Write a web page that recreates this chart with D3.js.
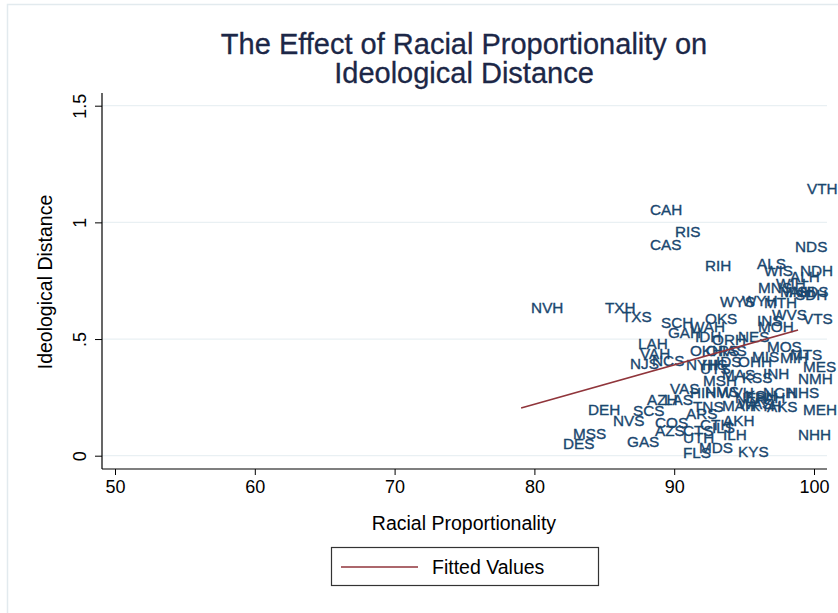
<!DOCTYPE html>
<html>
<head>
<meta charset="utf-8">
<script src="https://cdn.jsdelivr.net/npm/d3@7"></script>
<style>
  html, body { margin: 0; padding: 0; background: #ffffff; }
  svg { display: block; font-family: "Liberation Sans", Arial, Helvetica, sans-serif; }
</style>
</head>
<body>
<svg id="chart" width="838" height="613"></svg>
<script>
// State delegation codes (state + H for House, S for Senate)
const labels = [
  "VTH","CAH","RIS","CAS","NDS","RIH","ALS","WIS","NDH","ALH",
  "MNS","WIH","SDS","SDH","IAH","MNH","WYS","WYH","MTH","OKS",
  "INS","WVS","VTS","MOH","SCH","WAH","GAH","NVH","TXH","TXS",
  "LAH","VAH","NJS","NCS","NES","IDH","ORH","OKH","ORS","IAS",
  "MOS","MIS","MTS","MIH","NYH","HIS","IDS","OHH","MES","NMH",
  "MSH","MAS","KSS","INH","UTS","NHS","VAS","AZH","LAS","HIH",
  "NMS","WVH","KSH","NEH","PAH","NCH","TNS","MAH","WAS","KYH",
  "AKS","MEH","DEH","SCS","NVS","COS","ARS","AKH","AZS","CTH",
  "ILS","CTS","UTH","ILH","NHH","GAS","MSS","DES","FLS","MDS",
  "KYS"
];

// Racial proportionality (x)
const racialProp = [
  98.78, 87.55, 89.34, 87.55, 97.93, 91.49, 95.21, 95.71, 98.28, 97.57,
  95.28, 96.57, 98.07, 97.93, 97.21, 96.85, 92.56, 94.13, 95.71, 91.49,
  95.21, 96.28, 98.50, 95.28, 88.34, 90.41, 88.84, 79.05, 84.33, 85.55,
  86.70, 86.84, 86.12, 87.70, 93.85, 90.77, 91.99, 90.41, 91.56, 92.70,
  95.92, 94.85, 97.57, 96.85, 90.13, 91.27, 92.27, 93.85, 98.50, 98.14,
  91.35, 92.70, 94.13, 95.64, 91.13, 97.35, 88.98, 87.34, 88.56, 90.41,
  91.49, 92.42, 94.35, 93.63, 95.07, 95.64, 90.63, 92.70, 93.85, 94.71,
  95.92, 98.50, 83.12, 86.34, 84.91, 87.91, 90.13, 92.78, 87.91, 91.13,
  91.99, 89.91, 89.91, 92.78, 98.14, 85.91, 82.05, 81.33, 89.91, 91.06,
  93.85
];

// Ideological distance (y)
const ideoDist = [
  1.147, 1.057, 0.963, 0.907, 0.895, 0.817, 0.822, 0.792, 0.792, 0.770,
  0.723, 0.736, 0.702, 0.690, 0.705, 0.702, 0.663, 0.667, 0.658, 0.590,
  0.581, 0.607, 0.590, 0.552, 0.573, 0.552, 0.526, 0.637, 0.637, 0.595,
  0.479, 0.440, 0.397, 0.410, 0.513, 0.509, 0.500, 0.449, 0.453, 0.453,
  0.466, 0.427, 0.432, 0.419, 0.389, 0.393, 0.402, 0.402, 0.384, 0.333,
  0.324, 0.350, 0.337, 0.354, 0.372, 0.273, 0.290, 0.243, 0.243, 0.272,
  0.276, 0.269, 0.260, 0.248, 0.248, 0.273, 0.209, 0.217, 0.225, 0.217,
  0.209, 0.196, 0.196, 0.192, 0.153, 0.144, 0.183, 0.153, 0.106, 0.132,
  0.119, 0.110, 0.080, 0.089, 0.093, 0.059, 0.097, 0.054, 0.012, 0.037,
  0.016
];

// Linear fit endpoints (fitted values over the observed x range)
const fitX = [79.05, 98.86];
const fitY = [0.204, 0.539];

const xTicks = [50, 60, 70, 80, 90, 100];
const yTicks = [0, 0.5, 1, 1.5];
const yTickLabels = ["0", ".5", "1", "1.5"];

const navy = "#1a476f";
const maroon = "#90353b";
const grid = "#e9f0f3";

const svg = d3.select("#chart");

// graph region outline
svg.append("rect")
  .attr("x", 7.5).attr("y", 4.5)
  .attr("width", 860).attr("height", 640)
  .attr("fill", "#ffffff")
  .attr("stroke", "#e2eaee")
  .attr("stroke-width", 1.5);

const plot = { left: 102, right: 827, top: 93, bottom: 469 };

const x = d3.scaleLinear().domain([50, 100]).range([115, 814]);
const y = d3.scaleLinear().domain([0, 1.5]).range([455.7, 105.7]);

// gridlines
svg.append("g")
  .selectAll("line")
  .data(yTicks)
  .join("line")
  .attr("x1", plot.left).attr("x2", plot.right)
  .attr("y1", d => y(d)).attr("y2", d => y(d))
  .attr("stroke", grid)
  .attr("stroke-width", 1.2);

// title
const title = svg.append("text")
  .attr("text-anchor", "middle")
  .attr("fill", "#1c2747")
  .attr("stroke", "#1c2747")
  .attr("stroke-width", 0.3)
  .style("font-size", "29px");
title.append("tspan").attr("x", 464).attr("y", 54).text("The Effect of Racial Proportionality on");
title.append("tspan").attr("x", 464).attr("y", 83).text("Ideological Distance");

// x axis
const xAxis = d3.axisBottom(x).tickValues(xTicks).tickSize(6).tickPadding(5).tickFormat(d3.format("d"));
const gx = svg.append("g").attr("transform", `translate(0,${plot.bottom})`).call(xAxis);
gx.select(".domain").remove();
gx.append("line")
  .attr("x1", plot.left).attr("x2", plot.right)
  .attr("y1", 0).attr("y2", 0)
  .attr("stroke", "#000").attr("stroke-width", 1.2);
gx.selectAll(".tick line").attr("stroke", "#000").attr("stroke-width", 1);
gx.selectAll(".tick text")
  .attr("fill", "#000")
  .style("font-size", "18px")
  .style("font-family", "'Liberation Sans', Arial, sans-serif");

// y axis
const yAxis = d3.axisLeft(y).tickValues(yTicks).tickSize(7).tickFormat((d, i) => yTickLabels[i]);
const gy = svg.append("g").attr("transform", `translate(${plot.left},0)`).call(yAxis);
gy.select(".domain").remove();
gy.append("line")
  .attr("x1", 0).attr("x2", 0)
  .attr("y1", plot.top).attr("y2", plot.bottom)
  .attr("stroke", "#000").attr("stroke-width", 1.2);
gy.selectAll(".tick line").attr("stroke", "#000").attr("stroke-width", 1);
gy.selectAll(".tick text")
  .attr("x", null).attr("dy", null)
  .attr("transform", "translate(-16,0) rotate(-90)")
  .attr("text-anchor", "middle")
  .attr("fill", "#000")
  .style("font-size", "18px")
  .style("font-family", "'Liberation Sans', Arial, sans-serif");

// axis titles
svg.append("text")
  .attr("x", 464).attr("y", 530)
  .attr("text-anchor", "middle")
  .attr("fill", "#000")
  .style("font-size", "19.5px")
  .text("Racial Proportionality");

svg.append("text")
  .attr("transform", "translate(52,282) rotate(-90)")
  .attr("text-anchor", "middle")
  .attr("fill", "#000")
  .style("font-size", "19.5px")
  .text("Ideological Distance");

// marker labels (markers hidden, label sits to the right of each point)
const pts = labels.map((l, i) => ({ l, xv: racialProp[i], yv: ideoDist[i] }));
svg.append("g")
  .selectAll("text")
  .data(pts)
  .join("text")
  .attr("x", d => x(d.xv) + 10)
  .attr("y", d => y(d.yv))
  .attr("dy", "0.36em")
  .attr("fill", navy)
  .attr("stroke", navy)
  .attr("stroke-width", 0.35)
  .style("font-size", "15.3px")
  .text(d => d.l);

// fitted line
svg.append("path")
  .datum(fitX.map((v, i) => [v, fitY[i]]))
  .attr("d", d3.line().x(d => x(d[0])).y(d => y(d[1])))
  .attr("fill", "none")
  .attr("stroke", maroon)
  .attr("stroke-width", 1.6);

// legend
const lg = svg.append("g");
lg.append("rect")
  .attr("x", 331.5).attr("y", 547.5)
  .attr("width", 267).attr("height", 38)
  .attr("fill", "#fff")
  .attr("stroke", "#333")
  .attr("stroke-width", 1.2);
lg.append("line")
  .attr("x1", 341).attr("x2", 418)
  .attr("y1", 567).attr("y2", 567)
  .attr("stroke", maroon).attr("stroke-width", 1.6);
lg.append("text")
  .attr("x", 432).attr("y", 574)
  .attr("fill", "#000")
  .style("font-size", "19.5px")
  .text("Fitted Values");
</script>
</body>
</html>
